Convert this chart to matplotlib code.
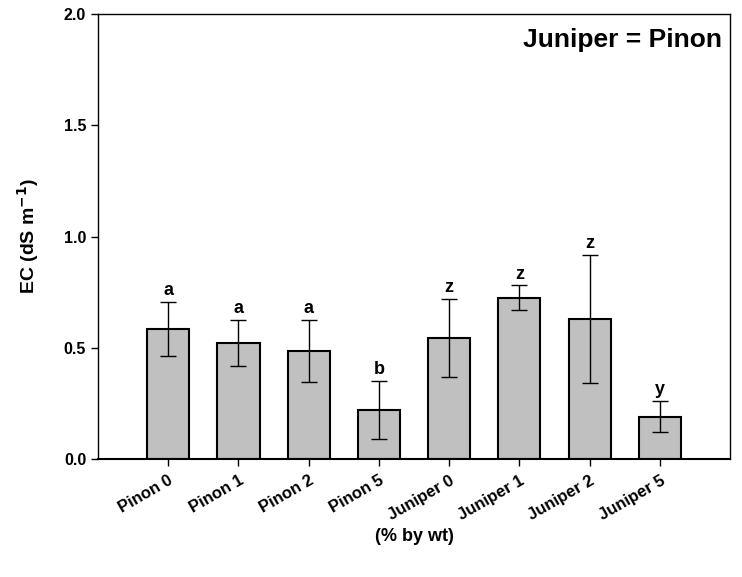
import matplotlib.pyplot as plt
import numpy as np

plt.rcParams["font.family"] = ["Liberation Sans", "DejaVu Sans"]
plt.rcParams["font.weight"] = "bold"
plt.rcParams["mathtext.default"] = "bf"

treatments = ["Pinon 0", "Pinon 1", "Pinon 2", "Pinon 5",
              "Juniper 0", "Juniper 1", "Juniper 2", "Juniper 5"]
ec_mean = [0.584, 0.522, 0.486, 0.221, 0.545, 0.725, 0.630, 0.190]
ec_err = [0.122, 0.102, 0.140, 0.131, 0.175, 0.056, 0.287, 0.070]
groups = ["a", "a", "a", "b", "z", "z", "z", "y"]

fig = plt.figure(figsize=(7.42, 5.77), dpi=100)
ax = fig.add_axes([0.132, 0.2045, 0.852, 0.7712])

x = np.arange(len(treatments))
ax.bar(x, ec_mean, width=0.6, color="#c0c0c0", edgecolor="black",
       linewidth=1.5, zorder=2)
ax.errorbar(x, ec_mean, yerr=ec_err, fmt="none", ecolor="black",
            elinewidth=1, capsize=6, capthick=1, zorder=3)

# significance letters above the error bars
for xi, m, e, g in zip(x, ec_mean, ec_err, groups):
    ax.text(xi, m + e + 0.012, g, ha="center", va="bottom",
            fontsize=13, fontweight="bold")

ax.set_xlim(-1, 8)
ax.set_ylim(0, 2.0)
ax.set_yticks([0.0, 0.5, 1.0, 1.5, 2.0])
ax.set_yticklabels(["0.0", "0.5", "1.0", "1.5", "2.0"])
ax.set_xticks(x)
ax.set_xticklabels(treatments, rotation=30, ha="right",
                   rotation_mode="anchor")
ax.tick_params(axis="both", direction="out", length=5, width=1,
               labelsize=11.5)
ax.tick_params(axis="x", labelsize=12, pad=5)

for sp in ax.spines.values():
    sp.set_linewidth(1)
ax.spines["bottom"].set_linewidth(1.5)

ax.set_ylabel("EC (dS m$^{-1}$)", fontsize=14, fontweight="bold")
ax.yaxis.set_label_coords(-0.09, 0.5)
ax.set_xlabel("(% by wt)", fontsize=13, fontweight="bold")
ax.xaxis.set_label_coords(0.5, -0.155)

ax.text(0.987, 0.9685, "Juniper = Pinon", transform=ax.transAxes,
        ha="right", va="top", fontsize=19, fontweight="bold")

fig.savefig("out.png", dpi=100)
